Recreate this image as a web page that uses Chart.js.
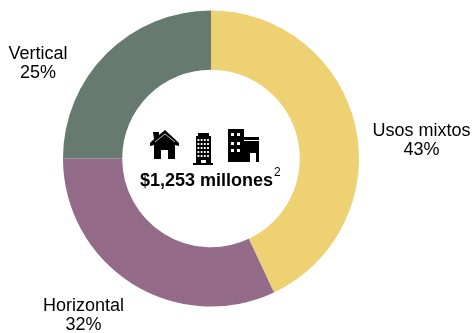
<!DOCTYPE html>
<html>
<head>
<meta charset="utf-8">
<title>Usos</title>
<script src="https://cdn.jsdelivr.net/npm/chart.js@4"></script>
<style>
  html, body { margin: 0; padding: 0; background: #fff; }
  #wrap { position: relative; width: 474px; height: 333px; }
</style>
</head>
<body>
<div id="wrap"><canvas id="chartUsos" width="474" height="333"></canvas></div>
<script>
var categorias = ['Usos mixtos', 'Horizontal', 'Vertical'];
var porcentajes = [43, 32, 25];
var colores = ['#eed172', '#956b8a', '#667a70'];
var totalTexto = '$1,253 millones';
var totalSuper = '2';

// Posicion de cada etiqueta (centro del texto, primera linea)
var etiquetaPos = [[421.5, 131], [83.5, 306], [38, 54]];

// Trama fina del sector morado
function tramaMorada() {
  var t = document.createElement('canvas');
  t.width = 3;
  t.height = 3;
  var c = t.getContext('2d');
  c.fillStyle = colores[1];
  c.fillRect(0, 0, 3, 3);
  c.fillStyle = '#916786';
  c.fillRect(0, 0, 1, 1);
  c.fillRect(2, 2, 1, 1);
  c.fillStyle = '#996f8e';
  c.fillRect(1, 1, 1, 1);
  return c.createPattern(t, 'repeat');
}

function dibujarCasa(c, x, y) {
  c.fillStyle = '#000';
  c.beginPath();
  c.moveTo(x + 15, y);
  c.lineTo(x + 29, y + 13);
  c.lineTo(x + 29, y + 16);
  c.lineTo(x + 25, y + 15);
  c.lineTo(x + 25, y + 29);
  c.lineTo(x + 18, y + 29);
  c.lineTo(x + 18, y + 20);
  c.lineTo(x + 11, y + 20);
  c.lineTo(x + 11, y + 29);
  c.lineTo(x + 4, y + 29);
  c.lineTo(x + 4, y + 15);
  c.lineTo(x, y + 16);
  c.lineTo(x, y + 13);
  c.lineTo(x + 4, y + 9);
  c.lineTo(x + 3, y + 2);
  c.lineTo(x + 9, y + 2);
  c.lineTo(x + 9, y + 5);
  c.closePath();
  c.fill();
  // linea clara bajo el tejado
  c.strokeStyle = 'rgba(255,255,255,0.75)';
  c.lineWidth = 1;
  c.beginPath();
  c.moveTo(x + 5, y + 12);
  c.lineTo(x + 15, y + 4);
  c.lineTo(x + 25, y + 12);
  c.stroke();
}

function dibujarTorre(c, x, y) {
  c.fillStyle = '#000';
  c.fillRect(x + 3, y + 3, 15, 27);
  c.fillRect(x + 5, y, 11, 3);
  c.fillRect(x, y + 30, 20, 2);
  c.fillStyle = '#fff';
  for (var f = 0; f < 5; f++) {
    for (var k = 0; k < 4; k++) {
      c.fillRect(x + 4.5 + k * 3.2, y + 6 + f * 4, 1.8, 2);
    }
  }
  c.fillRect(x + 8, y + 27, 5, 3);
}

function dibujarEdificio(c, x, y) {
  c.fillStyle = '#000';
  c.fillRect(x, y, 16, 33);
  c.fillRect(x + 16, y + 8, 15, 25);
  c.fillStyle = '#fff';
  c.fillRect(x + 16, y + 11, 15, 1);
  c.fillRect(x + 22, y + 24, 6, 9);
  var ventanas = [[3, 4], [9, 4], [3, 13], [9, 13], [3, 20], [9, 20]];
  ventanas.forEach(function (v) { c.fillRect(x + v[0], y + v[1], 3, 3); });
}

// Etiquetas exteriores y texto central
var textosPlugin = {
  id: 'textos',
  afterDraw: function (chart) {
    var c = chart.ctx;
    c.save();
    c.fillStyle = '#000';
    c.textAlign = 'center';
    c.textBaseline = 'middle';
    c.font = '18px "Liberation Sans"';
    categorias.forEach(function (cat, i) {
      c.fillText(cat, etiquetaPos[i][0], etiquetaPos[i][1]);
      c.fillText(porcentajes[i] + '%', etiquetaPos[i][0], etiquetaPos[i][1] + 19.5);
    });
    c.font = 'bold 18px "Liberation Sans"';
    c.textAlign = 'left';
    c.fillText(totalTexto, 140, 181);
    c.font = '12px "Liberation Sans"';
    c.fillText(totalSuper, 274, 173);
    dibujarCasa(c, 150, 130);
    dibujarTorre(c, 193, 133);
    dibujarEdificio(c, 228, 129);
    c.restore();
  }
};

new Chart(document.getElementById('chartUsos'), {
  type: 'doughnut',
  data: {
    labels: categorias,
    datasets: [{
      data: porcentajes,
      backgroundColor: [colores[0], tramaMorada(), colores[2]],
      borderWidth: 0
    }]
  },
  options: {
    responsive: false,
    animation: false,
    cutout: '60%',
    layout: { padding: { left: 63, top: 10, right: 115, bottom: 26 } },
    plugins: {
      legend: { display: false },
      tooltip: { enabled: false }
    }
  },
  plugins: [textosPlugin]
});
</script>
</body>
</html>
